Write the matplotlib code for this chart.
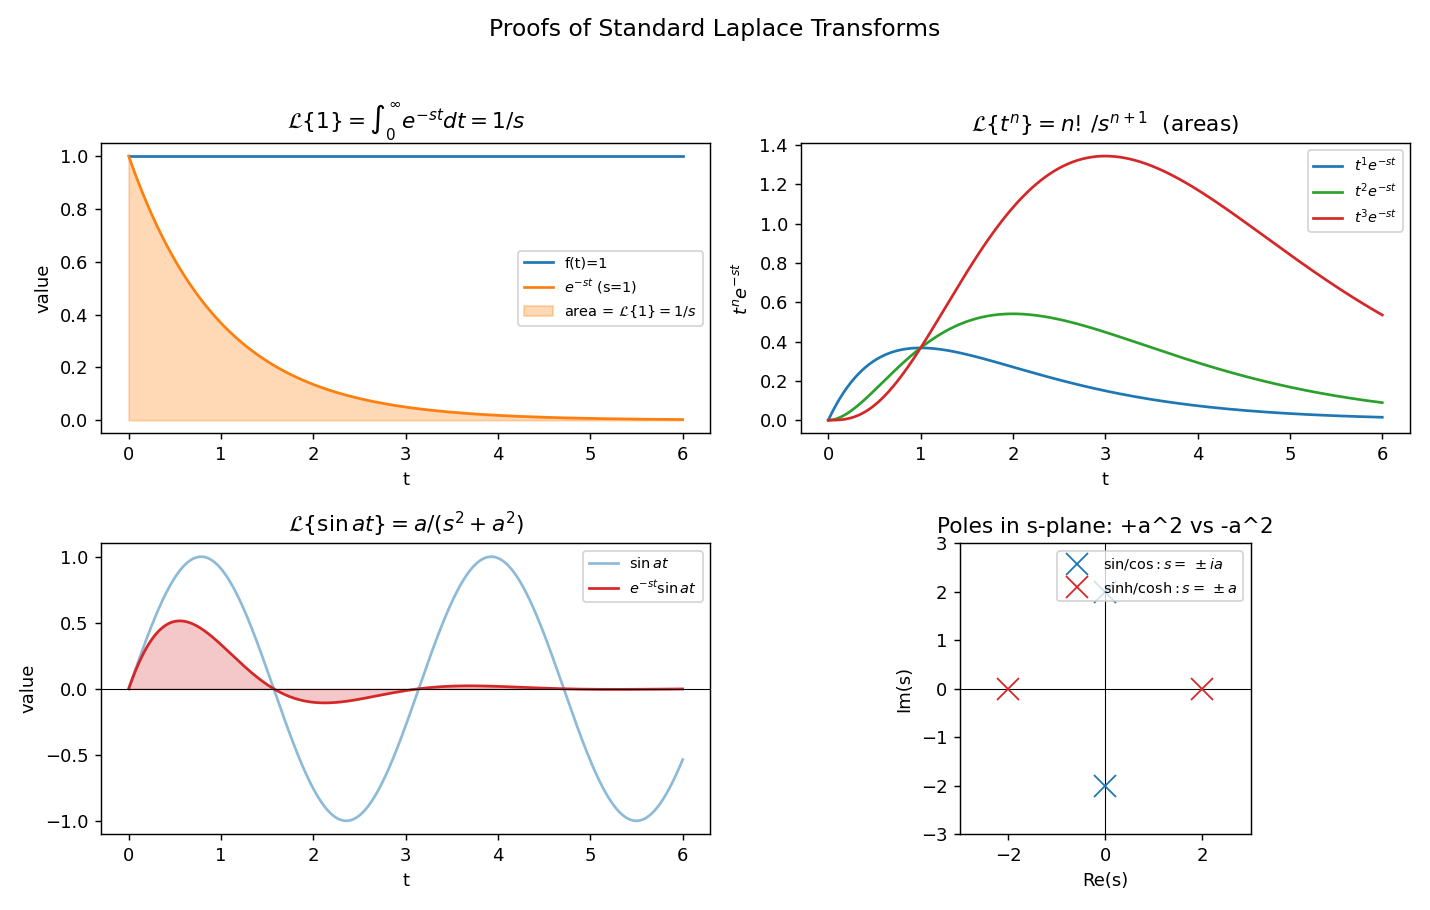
import numpy as np
import matplotlib
matplotlib.use("Agg")
import matplotlib.pyplot as plt

# parameters of the transforms shown
s_val = 1.0
a_val = 2.0
orders = [1, 2, 3]
order_colors = ["C0", "C2", "C3"]
t = np.linspace(0, 6, 600)

# pole locations in the s-plane
osc_re = [0, 0]
osc_im = [a_val, -a_val]
hyp_re = [-a_val, a_val]
hyp_im = [0, 0]

fig, axes = plt.subplots(2, 2, figsize=(11, 7), dpi=130)
fig.suptitle("Proofs of Standard Laplace Transforms", fontsize=13)

# f(t) = 1
ax = axes[0, 0]
decay = np.exp(-s_val * t)
ax.plot(t, np.ones_like(t), label="f(t)=1")
ax.plot(t, decay, label=r"$e^{-st}$ (s=1)")
ax.fill_between(t, 0, decay, color="C1", alpha=0.3,
                label=r"area = $\mathcal{L}\{1\}=1/s$")
ax.set_title(r"$\mathcal{L}\{1\} = \int_0^\infty e^{-st}dt = 1/s$")
ax.set_xlabel("t")
ax.set_ylabel("value")
ax.legend(loc="center right", fontsize=8)

# t^n
ax = axes[0, 1]
for n, c in zip(orders, order_colors):
    ax.plot(t, t**n * np.exp(-s_val * t), color=c, label=rf"$t^{n}e^{{-st}}$")
ax.set_title(r"$\mathcal{L}\{t^n\} = n!\,/s^{n+1}$  (areas)")
ax.set_xlabel("t")
ax.set_ylabel(r"$t^n e^{-st}$")
ax.legend(loc="upper right", fontsize=8)

# sin at
ax = axes[1, 0]
damped = np.exp(-s_val * t) * np.sin(a_val * t)
ax.plot(t, np.sin(a_val * t), color="C0", alpha=0.5, label=r"$\sin at$")
ax.plot(t, damped, color="C3", label=r"$e^{-st}\sin at$")
ax.fill_between(t, 0, damped, color="C3", alpha=0.25)
ax.axhline(0, color="k", lw=0.6)
ax.set_title(r"$\mathcal{L}\{\sin at\} = a/(s^2+a^2)$")
ax.set_xlabel("t")
ax.set_ylabel("value")
ax.legend(loc="upper right", fontsize=8)

# poles
ax = axes[1, 1]
ax.axhline(0, color="k", lw=0.6)
ax.axvline(0, color="k", lw=0.6)
ax.plot(osc_re, osc_im, "x", color="C0", ms=12, label=r"sin/cos$: s=\,\pm ia$")
ax.plot(hyp_re, hyp_im, "x", color="C3", ms=12, label=r"sinh/cosh$: s=\,\pm a$")
ax.set_xlim(-3, 3)
ax.set_ylim(-3, 3)
ax.set_aspect("equal")
ax.set_title("Poles in s-plane: +a^2 vs -a^2")
ax.set_xlabel("Re(s)")
ax.set_ylabel("Im(s)")
ax.legend(loc="upper right", fontsize=8)

fig.subplots_adjust(left=0.0706, right=0.986, top=0.843, bottom=0.0835,
                    wspace=0.148, hspace=0.379)
fig.savefig("out.png")
